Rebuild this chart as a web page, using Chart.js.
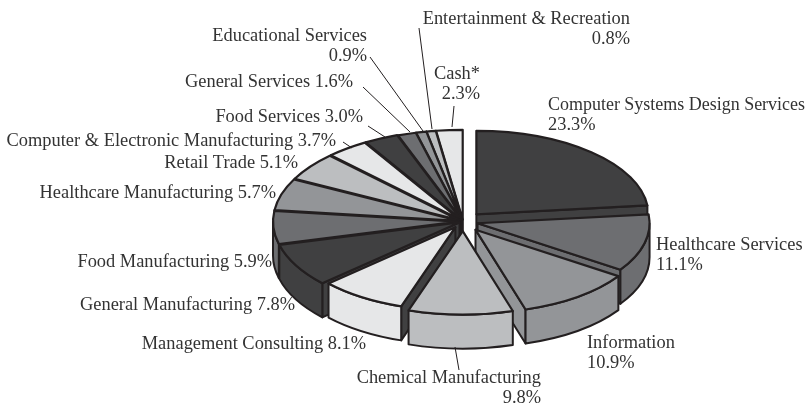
<!DOCTYPE html>
<html lang="en">
<head>
  <meta charset="UTF-8" />
  <title>Portfolio by industry</title>
  <script src="https://cdn.jsdelivr.net/npm/chart.js"></script>
  <style>
    html, body { margin: 0; padding: 0; background: #fff; }
    canvas { display: block; }
  </style>
</head>
<body>
  <canvas id="pie" width="807" height="405"></canvas>

  <script>
    const categories = [
      'Computer Systems Design Services', 'Healthcare Services', 'Information',
      'Chemical Manufacturing', 'Management Consulting', 'General Manufacturing',
      'Food Manufacturing', 'Healthcare Manufacturing', 'Retail Trade',
      'Computer & Electronic Manufacturing', 'Food Services', 'General Services',
      'Educational Services', 'Entertainment & Recreation', 'Cash*'
    ];
    const shares = [23.3, 11.1, 10.9, 9.8, 8.1, 7.8, 5.9, 5.7, 5.1, 3.7, 3.0, 1.6, 0.9, 0.8, 2.3];

    // five greys repeated around the pie
    const greys = ['#404041', '#6d6e71', '#939598', '#bcbec0', '#e6e7e8'];
    const fills = shares.map((_, i) => greys[i % 5]);
    // the cut face of Management Consulting is dark, everything else keeps its own grey
    const cutFaces = fills.map((c, i) => i === 4 ? greys[0] : c);

    // pulled-out distance and radius of each slice
    const explode = [20, 15, 21, 20, 14, 4, 5, 5, 5, 5, 5, 4, 4, 4, 4];
    const radii = [172, 172, 172, 172, 172, 186, 185, 185, 185, 185, 185, 185, 185, 185, 185];

    const flat = 0.485;   // vertical squash of the disc
    const depth = 34;     // height of the extruded side
    const ink = '#231f20';

    // [slice, x, centre y, align, two lines?]
    const labelSpots = [
      [0, 548, 105, 'left', true],
      [1, 656, 245, 'left', true],
      [2, 587, 343, 'left', true],
      [3, 541, 378, 'right', true],
      [4, 366, 344, 'right', false],
      [5, 295, 305, 'right', false],
      [6, 272, 262, 'right', false],
      [7, 276, 193, 'right', false],
      [8, 298, 163, 'right', false],
      [9, 336, 141, 'right', false],
      [10, 363, 117, 'right', false],
      [11, 353, 82, 'right', false],
      [12, 367, 36, 'right', true],
      [13, 630, 19, 'right', true],
      [14, 480, 74, 'right', true]
    ];

    const leaders = [
      [370, 57, 423, 131],
      [419, 28, 432, 129],
      [454, 106, 452, 127],
      [363, 87, 410, 132],
      [368, 126, 385, 137],
      [343, 142, 352, 148],
      [455, 347, 459, 370]
    ];

    function strokeShape(ctx, fill) {
      ctx.fillStyle = fill;
      ctx.fill();
      ctx.strokeStyle = ink;
      ctx.lineWidth = 2;
      ctx.lineJoin = 'round';
      ctx.stroke();
    }

    function radialWall(ctx, sx, sy, rx, ry, a, fill) {
      const ex = sx + Math.cos(a) * rx;
      const ey = sy + Math.sin(a) * ry;
      ctx.beginPath();
      ctx.moveTo(sx, sy);
      ctx.lineTo(ex, ey);
      ctx.lineTo(ex, ey + depth);
      ctx.lineTo(sx, sy + depth);
      ctx.closePath();
      strokeShape(ctx, fill);
    }

    const tiltedPie = {
      id: 'tiltedPie',
      afterDatasetsUpdate(chart) {
        chart.getDatasetMeta(0).data.forEach((arc, i) => {
          const mid = (arc.startAngle + arc.endAngle) / 2;
          arc.outerRadius = radii[i];
          arc.x += Math.cos(mid) * explode[i];
          arc.y += Math.sin(mid) * explode[i];
        });
      },
      beforeDatasetDraw(chart) {
        const ctx = chart.ctx;
        const area = chart.chartArea;
        const cy = (area.top + area.bottom) / 2;
        const arcs = chart.getDatasetMeta(0).data.map((arc, i) => ({ arc, i }));

        // far slices first so the nearer ones cover them
        arcs.sort((p, q) => Math.sin((p.arc.startAngle + p.arc.endAngle) / 2) - Math.sin((q.arc.startAngle + q.arc.endAngle) / 2));

        arcs.forEach(({ arc, i }) => {
          const sx = arc.x;
          const sy = cy + (arc.y - cy) * flat;
          const rx = arc.outerRadius;
          const ry = rx * flat;
          const a0 = arc.startAngle;
          const a1 = arc.endAngle;

          if (Math.cos(a0) < 0) radialWall(ctx, sx, sy, rx, ry, a0, cutFaces[i]);
          if (Math.cos(a1) > 0) radialWall(ctx, sx, sy, rx, ry, a1, cutFaces[i]);

          // rim, only the part facing the viewer
          const lo = Math.max(a0, 0);
          const hi = Math.min(a1, Math.PI);
          if (hi > lo) {
            ctx.beginPath();
            ctx.ellipse(sx, sy, rx, ry, 0, lo, hi);
            ctx.ellipse(sx, sy + depth, rx, ry, 0, hi, lo, true);
            ctx.closePath();
            strokeShape(ctx, fills[i]);
          }

          // top face, squashed around the pie centre
          ctx.save();
          ctx.translate(0, cy);
          ctx.scale(1, flat);
          ctx.translate(0, -cy);
          arc.draw(ctx);
          ctx.restore();

          ctx.beginPath();
          ctx.moveTo(sx, sy);
          ctx.ellipse(sx, sy, rx, ry, 0, a0, a1);
          ctx.closePath();
          ctx.strokeStyle = ink;
          ctx.lineWidth = 2.2;
          ctx.lineJoin = 'round';
          ctx.stroke();
        });
        return false;
      },
      afterDraw(chart) {
        const ctx = chart.ctx;
        ctx.save();
        ctx.strokeStyle = ink;
        ctx.lineWidth = 1;
        leaders.forEach(([x0, y0, x1, y1]) => {
          ctx.beginPath();
          ctx.moveTo(x0, y0);
          ctx.lineTo(x1, y1);
          ctx.stroke();
        });

        ctx.fillStyle = '#333333';
        ctx.font = '18.4px "Liberation Serif", serif';
        ctx.textBaseline = 'middle';
        labelSpots.forEach(([i, x, y, align, twoLines]) => {
          ctx.textAlign = align;
          // keep left-aligned labels inside the canvas
          const room = align === 'left' ? 805 - x : x;
          if (twoLines) {
            ctx.fillText(categories[i], x, y, room);
            ctx.fillText(shares[i].toFixed(1) + '%', x, y + 20);
          } else {
            ctx.fillText(categories[i] + ' ' + shares[i].toFixed(1) + '%', x, y, room);
          }
        });
        ctx.restore();
      }
    };

    new Chart(document.getElementById('pie'), {
      type: 'pie',
      data: {
        labels: categories,
        datasets: [{
          data: shares,
          backgroundColor: fills,
          borderWidth: 0,
          radius: 186
        }]
      },
      options: {
        responsive: false,
        animation: false,
        layout: { padding: { left: 119, top: 38 } },
        plugins: { legend: { display: false }, tooltip: { enabled: false } }
      },
      plugins: [tiltedPie]
    });
  </script>
</body>
</html>
